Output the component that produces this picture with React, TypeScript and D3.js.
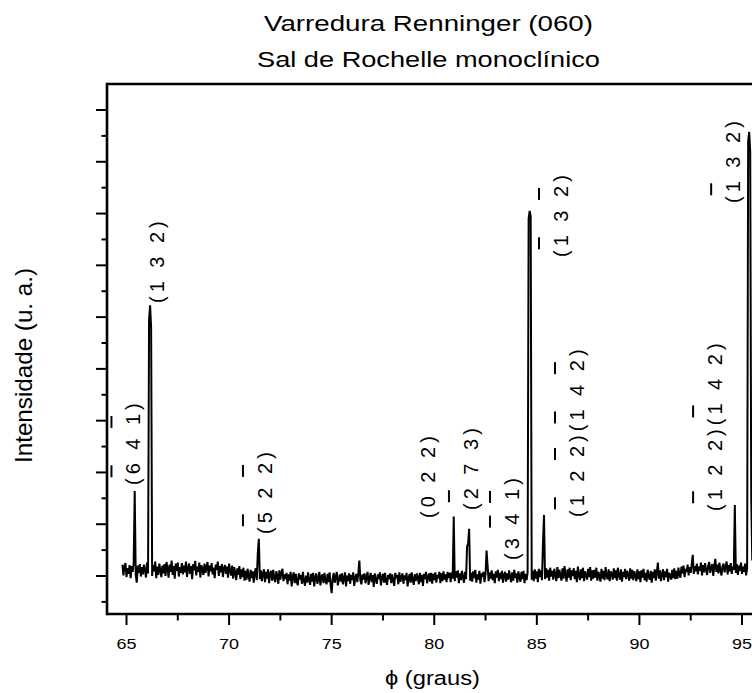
import React from "react";
import * as d3 from "d3";

// ---------- data ----------
const phiStart = 64.8;
const phiStep = 0.05;
// Renninger scan intensity (arbitrary units), one value per 0.05 deg from 64.8 to 95.5 (one row per degree)
const intensity = [
  0.22, 0.01, 0.18, 0.25, -0.02, 0.15, 0.04, 0.21, -0.04, 0.19, 0.08, 0.24, 1.64, 0.02, -0.13, 0.2, 0.06, 0.23, -0.01, 0.17, // 64.8
  0.03, 0.22, 0.12, -0.03, 0.26, 0.05, 4.95, 5.23, 4.8, 0.0, 0.21, 0.09, 0.28, -0.04, 0.18, 0.02, 0.24, 0.11, -0.02, 0.2, // 65.8
  0.05, 0.23, 0.0, 0.27, 0.14, -0.03, 0.22, 0.08, 0.3, 0.02, 0.19, -0.05, 0.24, 0.1, 0.26, -0.01, 0.17, 0.06, 0.25, 0.03, // 66.8
  0.2, 0.07, 0.28, -0.02, 0.15, 0.24, 0.04, 0.19, -0.06, 0.23, 0.11, 0.29, 0.01, 0.18, 0.08, 0.26, -0.03, 0.21, 0.13, 0.02, // 67.8
  0.24, 0.06, 0.17, 0.27, -0.01, 0.2, 0.09, 0.25, 0.03, 0.16, -0.04, 0.22, 0.12, 0.28, 0.0, 0.19, 0.07, 0.23, -0.02, 0.15, // 68.8
  0.21, 0.04, 0.18, -0.03, 0.24, 0.1, 0.01, 0.2, -0.05, 0.17, 0.07, -0.08, 0.15, 0.02, 0.19, -0.06, 0.13, -0.02, 0.16, -0.09, // 69.8
  0.1, -0.07, 0.14, 0.0, -0.11, 0.12, -0.04, 0.09, -0.13, 0.06, 0.15, -0.08, 0.45, 0.72, -0.06, 0.11, -0.1, 0.05, 0.13, -0.12, // 70.8
  0.08, -0.05, 0.13, -0.14, 0.04, 0.1, -0.09, 0.12, -0.03, -0.12, 0.09, 0.01, -0.15, 0.11, -0.07, 0.06, 0.14, -0.1, 0.03, -0.06, // 71.8
  0.06, -0.16, 0.03, -0.09, 0.08, -0.2, -0.02, 0.07, -0.14, 0.04, -0.11, -0.18, 0.05, -0.07, 0.02, -0.15, 0.08, -0.1, -0.19, 0.01, // 72.8
  -0.13, 0.07, -0.08, -0.17, 0.04, -0.11, 0.06, -0.2, -0.03, 0.05, -0.15, -0.06, 0.08, -0.18, -0.01, 0.03, -0.14, 0.06, -0.09, -0.16, // 73.8
  0.04, -0.12, 0.07, -0.17, -0.33, -0.05, 0.06, -0.13, -0.02, 0.08, -0.18, -0.07, 0.03, -0.11, 0.05, -0.16, -0.04, 0.07, -0.2, 0.01, // 74.8
  -0.1, 0.05, -0.15, 0.02, -0.08, 0.07, -0.19, -0.03, 0.04, -0.12, 0.06, 0.3, -0.09, -0.16, 0.03, -0.07, 0.05, -0.14, -0.01, 0.08, // 75.8
  -0.17, -0.04, 0.06, -0.12, 0.02, -0.21, 0.05, -0.08, -0.15, 0.03, -0.06, 0.07, -0.18, -0.02, 0.04, -0.13, 0.06, -0.1, -0.17, 0.02, // 76.8
  -0.06, 0.05, -0.14, 0.03, -0.09, -0.19, 0.06, -0.04, 0.02, -0.16, 0.07, -0.11, -0.03, 0.05, -0.15, 0.01, -0.08, 0.06, -0.2, -0.05, // 77.8
  0.04, -0.13, 0.07, -0.07, -0.17, 0.03, -0.1, 0.05, -0.02, -0.16, 0.06, -0.12, 0.02, -0.19, 0.04, -0.06, 0.08, -0.14, -0.03, 0.05, // 78.8
  -0.11, 0.06, -0.15, 0.04, -0.08, 0.07, -0.13, 0.02, -0.05, 0.08, -0.14, 0.05, -0.1, 0.09, -0.07, 0.03, -0.12, 0.08, -0.04, 0.06, // 79.8
  -0.12, 0.07, -0.05, 1.15, -0.1, 0.09, -0.03, 0.11, -0.14, 0.05, -0.08, 0.1, -0.02, -0.13, 0.08, -0.06, 0.57, 0.62, 0.91, -0.09, // 80.8
  0.06, -0.11, 0.09, -0.04, 0.12, -0.13, 0.03, -0.07, 0.1, -0.15, 0.05, -0.02, 0.08, -0.12, 0.04, 0.49, 0.2, -0.1, 0.07, -0.05, // 81.8
  0.11, -0.08, 0.04, -0.14, 0.09, -0.03, 0.12, -0.1, 0.06, -0.06, 0.1, -0.13, 0.02, 0.08, -0.11, 0.05, -0.07, 0.11, -0.02, -0.12, // 82.8
  0.07, -0.09, 0.12, -0.04, 0.05, -0.13, 0.09, -0.01, -0.11, 0.08, -0.06, 0.1, -0.14, 0.04, -0.08, 0.06, 6.9, 7.05, 6.95, -0.07, // 83.8
  0.1, -0.1, 0.13, -0.05, 0.09, -0.12, 0.14, -0.02, 0.11, -0.08, 0.64, 1.18, -0.06, 0.15, -0.03, 0.12, -0.09, 0.16, -0.01, 0.1, // 84.8
  -0.07, 0.14, 0.03, -0.1, 0.17, -0.04, 0.12, 0.01, -0.09, 0.15, -0.05, 0.19, 0.02, -0.11, 0.13, -0.03, 0.16, -0.08, 0.11, 0.0, // 85.8
  0.15, -0.06, 0.1, -0.12, 0.18, 0.02, -0.08, 0.13, -0.04, 0.16, -0.1, 0.09, 0.03, -0.07, 0.14, -0.02, 0.17, -0.09, 0.11, -0.05, // 86.8
  0.12, -0.03, 0.16, -0.09, 0.08, 0.01, -0.11, 0.14, -0.05, 0.1, -0.08, 0.17, 0.0, -0.06, 0.13, -0.1, 0.09, 0.04, -0.07, 0.15, // 87.8
  -0.04, 0.11, -0.09, 0.16, 0.02, -0.07, 0.13, -0.11, 0.08, -0.02, 0.14, -0.06, 0.1, 0.03, -0.09, 0.15, -0.05, 0.12, -0.08, 0.09, // 88.8
  0.01, -0.1, 0.13, -0.06, 0.09, -0.12, 0.11, -0.03, 0.14, -0.08, 0.06, -0.11, 0.12, 0.0, -0.07, 0.1, -0.13, 0.08, -0.04, 0.13, // 89.8
  -0.09, 0.07, 0.26, -0.05, 0.11, -0.1, 0.04, 0.13, -0.08, 0.09, -0.02, 0.14, -0.11, 0.06, 0.01, -0.07, 0.12, -0.04, 0.15, -0.06, // 90.8
  0.1, -0.05, 0.16, 0.02, -0.03, 0.18, 0.05, 0.2, -0.02, 0.14, 0.08, 0.22, 0.01, 0.17, 0.06, 0.23, 0.41, 0.04, 0.19, 0.09, // 91.8
  0.24, 0.03, 0.18, 0.1, 0.26, 0.01, 0.21, 0.07, 0.25, 0.12, 0.02, 0.19, 0.27, 0.06, 0.16, 0.23, 0.0, 0.2, 0.33, 0.08, // 92.8
  0.22, 0.05, 0.26, 0.11, 0.01, 0.19, 0.24, 0.07, 0.17, 0.28, 0.03, 0.21, 0.09, 0.25, 0.04, 0.18, 0.12, 1.37, 0.06, 0.23, // 93.8
  0.02, 0.2, 0.1, 0.26, 0.04, 0.18, 0.08, 0.24, 0.01, 0.15, 8.4, 8.58, 8.2, 1.5, 0.3, // 94.8
];

const xMajorTicks = [65, 70, 75, 80, 85, 90, 95];
const xMinorTicks = [67.5, 72.5, 77.5, 82.5, 87.5, 92.5];
const yMajorTicks = [0, 1, 2, 3, 4, 5, 6, 7, 8, 9];
const yMinorTicks = [-0.5, 0.5, 1.5, 2.5, 3.5, 4.5, 5.5, 6.5, 7.5, 8.5];

const titleLines = ["Varredura Renninger (060)", "Sal de Rochelle monoclínico"];
const xTitle = "ϕ (graus)";
const yTitle = "Intensidade (u. a.)";

// peak index labels (Miller indices), anchored in data coordinates
const peakLabels = [
  "(6 4 1)",
  "(1 3 2)",
  "(5 2 2)",
  "(0 2 2)",
  "(2 7 3)",
  "(3 4 1)",
  "(1 3 2)",
  "(1 2 2)(1 4 2)",
  "(1 2 2)(1 4 2)",
  "(1 3 2)",
];
const peakLabelPhi = [65.68, 66.85, 72.09, 80.06, 82.13, 84.13, 86.52, 87.3, 94.03, 94.91];
const peakLabelInt = [1.757, 5.272, 0.811, 1.12, 1.275, 0.309, 6.161, 1.139, 1.255, 7.204];
// character positions carrying an overbar (negative index)
const peakLabelBars = [[1, 5], [], [1, 5], [], [1], [3, 5], [1, 5], [1, 5, 8, 12], [1, 8], [1]];

// ---------- layout ----------
const W = 752;
const H = 693;
const left = 107;
const top = 84;
const bottom = 614;
const FONT = "'Liberation Sans', Arial, Helvetica, sans-serif";

const x = d3.scaleLinear().domain([65, 95]).range([126.5, 742]);
const y = d3.scaleLinear().domain([0, 9]).range([576, 110]);

const charW: Record<string, number> = { "(": 0.333, ")": 0.333, " ": 0.278 };
const cw = (c: string) => (charW[c] !== undefined ? charW[c] : 0.556);

function PeakLabel({ text, bars, px, py }: { text: string; bars: number[]; px: number; py: number }) {
  const fs = 20;
  const ls = 4;
  const starts: number[] = [];
  let acc = 0;
  for (const c of text) {
    starts.push(acc);
    acc += cw(c) * fs + ls;
  }
  const chars = Array.from(text);
  return (
    <g transform={`translate(${px},${py}) rotate(-90)`}>
      <text x={0} y={0} fontSize={fs} letterSpacing={ls} fontFamily={FONT} fill="#000">
        {text}
      </text>
      {bars.map((bi) => {
        const c = starts[bi] + (cw(chars[bi]) * fs) / 2 - 2.5;
        return <line key={bi} x1={c - 6} x2={c + 6} y1={-29} y2={-29} stroke="#000" strokeWidth={2} />;
      })}
    </g>
  );
}

export default function App() {
  const line = d3
    .line<number>()
    .x((_, i) => x(phiStart + i * phiStep))
    .y((d) => y(d));

  return (
    <svg width={W} height={H} style={{ position: "absolute", left: 0, top: 0, background: "#fff" }}>
      <rect x={0} y={0} width={W} height={H} fill="#fff" />
      {/* title */}
      <text x={428.5} y={31} textAnchor="middle" fontSize={22} fontFamily={FONT} textLength={329} lengthAdjust="spacingAndGlyphs">
        {titleLines[0]}
      </text>
      <text x={428.5} y={67} textAnchor="middle" fontSize={22} fontFamily={FONT} textLength={343} lengthAdjust="spacingAndGlyphs">
        {titleLines[1]}
      </text>

      {/* data */}
      <path d={line(intensity) || ""} fill="none" stroke="#000" strokeWidth={2} strokeLinejoin="miter" strokeMiterlimit={2} />

      {/* frame */}
      <line x1={left} x2={W} y1={top} y2={top} stroke="#000" strokeWidth={2.6} />
      <line x1={left} x2={left} y1={top - 1.3} y2={bottom + 1.3} stroke="#000" strokeWidth={2.6} />
      <line x1={left} x2={W} y1={bottom} y2={bottom} stroke="#000" strokeWidth={2.6} />

      {/* x ticks */}
      {xMajorTicks.map((v) => (
        <g key={"xM" + v}>
          <line x1={x(v)} x2={x(v)} y1={bottom} y2={bottom + 11} stroke="#000" strokeWidth={2} />
          <text x={x(v)} y={648.5} textAnchor="middle" fontSize={15} fontFamily={FONT} textLength={20} lengthAdjust="spacingAndGlyphs">
            {String(v)}
          </text>
        </g>
      ))}
      {xMinorTicks.map((v) => (
        <line key={"xm" + v} x1={x(v)} x2={x(v)} y1={bottom} y2={bottom + 6.5} stroke="#000" strokeWidth={2} />
      ))}

      {/* y ticks */}
      {yMajorTicks.map((v) => (
        <line key={"yM" + v} x1={left - 11} x2={left} y1={y(v)} y2={y(v)} stroke="#000" strokeWidth={2} />
      ))}
      {yMinorTicks.map((v) => (
        <line key={"ym" + v} x1={left - 5.5} x2={left} y1={y(v)} y2={y(v)} stroke="#000" strokeWidth={2} />
      ))}

      {/* axis titles */}
      <text x={432.5} y={685} textAnchor="middle" fontSize={20} fontFamily={FONT} textLength={95} lengthAdjust="spacingAndGlyphs">
        {xTitle}
      </text>
      <text
        transform="translate(31.5,365.5) rotate(-90)"
        textAnchor="middle"
        fontSize={24}
        fontFamily={FONT}
        textLength={195}
        lengthAdjust="spacingAndGlyphs"
      >
        {yTitle}
      </text>

      {/* peak labels */}
      {peakLabels.map((t, i) => (
        <PeakLabel key={i} text={t} bars={peakLabelBars[i]} px={x(peakLabelPhi[i])} py={y(peakLabelInt[i])} />
      ))}
    </svg>
  );
}
